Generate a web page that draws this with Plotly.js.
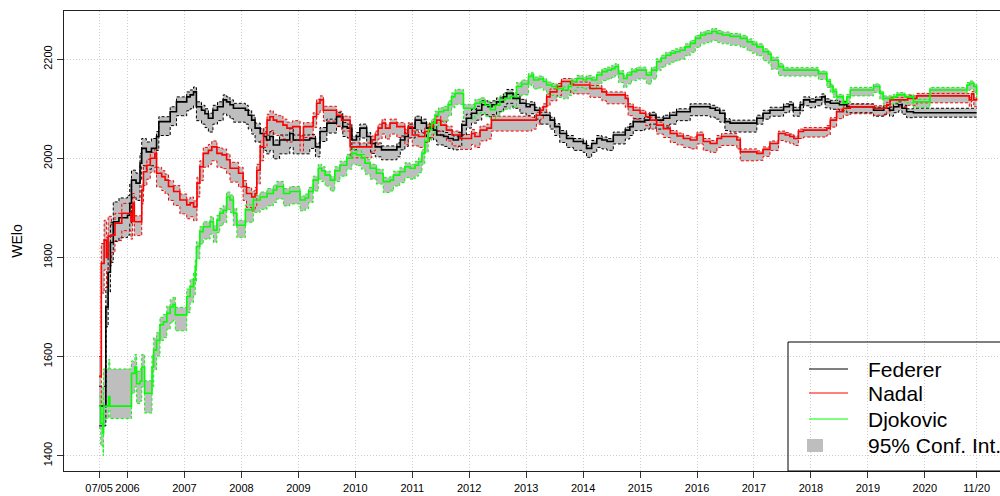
<!DOCTYPE html>
<html>
<head>
<meta charset="utf-8">
<script src="https://cdn.plot.ly/plotly-3.0.1.min.js"></script>
<style>html,body{margin:0;padding:0;background:#fff;}#chart{width:1000px;height:496px;}</style>
</head>
<body>
<div id="chart"></div>
<script>
// ---- Data (decimal years, WElo rating) ----
const fedX = [2005.50,2005.62,2005.66,2005.70,2005.75,2005.85,2006.00,2006.04,2006.07,2006.15,2006.22,2006.25,2006.33,2006.42,2006.51,2006.55,2006.65,2006.75,2006.86,2006.97,2007.04,2007.10,2007.16,2007.21,2007.30,2007.36,2007.42,2007.50,2007.58,2007.68,2007.74,2007.80,2007.86,2008.02,2008.07,2008.12,2008.18,2008.24,2008.33,2008.39,2008.44,2008.50,2008.56,2008.67,2008.79,2008.85,2008.91,2009.20,2009.30,2009.38,2009.50,2009.60,2009.67,2009.78,2009.86,2009.94,2010.02,2010.08,2010.20,2010.27,2010.35,2010.46,2010.66,2010.73,2010.79,2010.87,2010.93,2011.05,2011.16,2011.25,2011.37,2011.43,2011.55,2011.63,2011.72,2011.81,2011.87,2011.95,2012.04,2012.13,2012.22,2012.33,2012.40,2012.48,2012.60,2012.66,2012.77,2012.89,2013.00,2013.07,2013.15,2013.24,2013.42,2013.50,2013.59,2013.71,2013.83,2014.00,2014.06,2014.15,2014.24,2014.33,2014.42,2014.53,2014.65,2014.74,2014.82,2014.88,2015.08,2015.17,2015.28,2015.41,2015.52,2015.64,2015.88,2016.23,2016.32,2016.40,2016.49,2016.58,2017.05,2017.16,2017.28,2017.52,2017.62,2017.69,2017.81,2017.87,2017.98,2018.08,2018.19,2018.25,2018.34,2018.50,2018.63,2019.10,2019.28,2019.38,2019.45,2019.54,2019.60,2019.68,2019.80,2020.91];
const fedY = [1500,1700,1770,1830,1872,1880,1885,1909,1956,1950,1990,2020,2013,2020,2044,2074,2074,2094,2114,2114,2124,2128,2134,2104,2097,2090,2081,2097,2104,2118,2114,2108,2101,2101,2097,2087,2077,2061,2050,2044,2037,2044,2027,2037,2037,2050,2037,2040,2023,2054,2071,2071,2084,2064,2061,2037,2044,2061,2044,2030,2023,2017,2017,2023,2037,2044,2061,2077,2071,2061,2057,2047,2044,2040,2037,2044,2067,2081,2091,2097,2108,2104,2108,2114,2124,2131,2121,2111,2104,2108,2097,2087,2077,2064,2050,2040,2034,2030,2020,2030,2040,2037,2034,2047,2047,2057,2064,2074,2077,2087,2077,2081,2087,2094,2104,2101,2097,2091,2074,2071,2081,2091,2097,2104,2108,2097,2108,2118,2114,2118,2124,2114,2111,2108,2104,2097,2101,2097,2104,2108,2101,2094,2092,2092];

const nadX = [2005.50,2005.54,2005.59,2005.63,2005.66,2005.72,2005.78,2005.90,2006.06,2006.09,2006.12,2006.25,2006.28,2006.34,2006.40,2006.48,2006.51,2006.60,2006.66,2006.72,2006.81,2006.92,2007.04,2007.10,2007.16,2007.22,2007.27,2007.33,2007.42,2007.48,2007.57,2007.66,2007.74,2007.80,2007.95,2008.03,2008.09,2008.18,2008.24,2008.27,2008.33,2008.39,2008.45,2008.50,2008.56,2008.62,2008.73,2008.80,2008.90,2009.03,2009.09,2009.26,2009.32,2009.38,2009.44,2009.67,2009.76,2009.91,2010.29,2010.35,2010.40,2010.47,2010.53,2010.61,2010.73,2010.87,2010.93,2011.00,2011.11,2011.22,2011.30,2011.37,2011.43,2011.50,2011.60,2011.70,2011.84,2012.04,2012.10,2012.19,2012.31,2012.39,2013.10,2013.18,2013.25,2013.30,2013.36,2013.42,2013.54,2013.62,2013.78,2013.83,2014.12,2014.33,2014.41,2014.74,2014.79,2014.88,2015.00,2015.10,2015.18,2015.29,2015.41,2015.53,2015.65,2015.76,2015.88,2016.00,2016.11,2016.23,2016.35,2016.43,2016.70,2016.76,2017.05,2017.16,2017.28,2017.43,2017.55,2017.63,2017.70,2017.78,2017.87,2018.28,2018.34,2018.45,2018.57,2018.69,2019.10,2019.33,2019.39,2019.70,2019.86,2020.74,2020.78,2020.82,2020.86,2020.91];
const nadY = [1560,1788,1835,1800,1843,1845,1869,1889,1872,1909,1872,1936,1973,1986,2000,2010,1970,1963,1956,1943,1933,1916,1906,1910,1902,1950,1983,2010,2016,2023,2010,2007,1997,1980,1970,1943,1929,1922,1929,1976,2023,2050,2077,2084,2077,2074,2067,2061,2064,2037,2064,2084,2111,2118,2097,2087,2077,2023,2037,2047,2061,2071,2061,2071,2064,2050,2064,2047,2044,2054,2064,2071,2077,2067,2057,2047,2040,2050,2044,2057,2061,2077,2077,2087,2097,2104,2124,2134,2145,2155,2150,2148,2141,2134,2128,2121,2104,2097,2091,2084,2077,2067,2060,2050,2045,2040,2037,2047,2034,2030,2040,2044,2037,2013,2010,2018,2030,2050,2047,2044,2040,2054,2057,2061,2077,2094,2101,2104,2101,2108,2118,2121,2126,2126,2118,2130,2118,2121];

const djoX = [2005.50,2005.53,2005.57,2005.58,2005.67,2005.69,2006.07,2006.13,2006.16,2006.22,2006.25,2006.30,2006.43,2006.46,2006.51,2006.57,2006.63,2006.69,2006.75,2006.80,2006.84,2007.04,2007.10,2007.16,2007.19,2007.21,2007.27,2007.33,2007.45,2007.51,2007.57,2007.62,2007.68,2007.74,2007.80,2007.86,2007.92,2008.07,2008.21,2008.33,2008.45,2008.56,2008.62,2008.74,2008.85,2009.03,2009.12,2009.18,2009.26,2009.35,2009.41,2009.47,2009.56,2009.64,2009.73,2009.85,2009.94,2010.02,2010.11,2010.17,2010.26,2010.37,2010.49,2010.61,2010.67,2010.78,2010.87,2010.96,2011.05,2011.11,2011.17,2011.22,2011.28,2011.34,2011.40,2011.46,2011.55,2011.63,2011.69,2011.75,2011.90,2012.10,2012.19,2012.28,2012.37,2012.46,2012.54,2012.63,2012.72,2012.83,2012.92,2013.04,2013.10,2013.13,2013.22,2013.30,2013.36,2013.45,2013.53,2013.65,2013.74,2013.80,2013.89,2014.00,2014.06,2014.15,2014.24,2014.33,2014.42,2014.50,2014.56,2014.62,2014.71,2014.77,2014.85,2014.94,2015.11,2015.20,2015.29,2015.37,2015.45,2015.54,2015.62,2015.70,2015.79,2015.88,2015.97,2016.06,2016.15,2016.26,2016.35,2016.44,2016.58,2016.76,2016.88,2016.97,2017.05,2017.16,2017.25,2017.30,2017.43,2017.52,2018.04,2018.13,2018.28,2018.34,2018.39,2018.45,2018.57,2018.63,2018.69,2019.10,2019.21,2019.27,2019.45,2019.51,2019.65,2019.80,2020.09,2020.74,2020.79,2020.86,2020.91];
const djoY = [1500,1465,1445,1500,1519,1500,1566,1579,1545,1550,1579,1526,1579,1613,1633,1664,1670,1687,1700,1705,1684,1721,1741,1755,1781,1822,1852,1862,1872,1855,1875,1889,1895,1922,1916,1889,1865,1896,1916,1922,1929,1936,1943,1929,1933,1916,1920,1933,1956,1980,1975,1966,1956,1975,1986,2000,2010,2007,2000,1990,1980,1970,1953,1956,1966,1973,1983,1980,1986,1993,2010,2034,2058,2071,2087,2094,2097,2108,2124,2131,2101,2111,2114,2107,2098,2107,2118,2121,2125,2145,2150,2165,2168,2158,2160,2155,2148,2145,2141,2138,2145,2155,2161,2158,2161,2158,2168,2175,2178,2181,2185,2171,2161,2168,2175,2178,2168,2178,2195,2202,2208,2212,2215,2218,2225,2232,2242,2249,2252,2256,2252,2249,2246,2242,2235,2230,2225,2215,2210,2198,2185,2178,2178,2171,2155,2145,2135,2124,2111,2124,2138,2145,2131,2121,2124,2128,2124,2114,2138,2148,2151,2145,2128];

// 95% confidence band widths (rating points below / above the estimate), by period start
const fedBandStart = [2005.5, 2006.05, 2006.5, 2009.0, 2013.0, 2017.0, 2019.8];
const fedBandLo    = [40, 35, 28, 20, 18, 12, 9];
const fedBandHi    = [40, 20, 10, 8, 6, 6, 9];
const nadBandStart = [2005.5, 2005.7, 2006.1, 2009.0, 2013.0, 2017.0];
const nadBandLo    = [60, 35, 28, 22, 18, 14];
const nadBandHi    = [40, 20, 12, 8, 6, 5];
const djoBandStart = [2005.5, 2005.58, 2006.05, 2006.5, 2007.2, 2009.0, 2013.0, 2017.5];
const djoBandLo    = [45, 25, 40, 32, 25, 22, 18, 12];
const djoBandHi    = [20, 75, 25, 15, 10, 8, 6, 5];

const xTickVals = [2005.5,2006,2007,2008,2009,2010,2011,2012,2013,2014,2015,2016,2017,2018,2019,2020,2020.91];
const xTickText = ['07/05','2006','2007','2008','2009','2010','2011','2012','2013','2014','2015','2016','2017','2018','2019','2020','11/20'];
const yTickVals = [1400,1600,1800,2000,2200];

const players = ['Federer','Nadal','Djokovic'];
const colors  = ['#000000','#ff0000','#00ff00'];

function bounds(xs, ys, starts, lo, hi){
  const low=[], up=[];
  for(let i=0;i<xs.length;i++){
    let k=0;
    for(let j=0;j<starts.length;j++){ if(xs[i]>=starts[j]-1e-9) k=j; }
    low.push(ys[i]-lo[k]); up.push(ys[i]+hi[k]);
  }
  return {low, up};
}

const series = [
  {x:fedX, y:fedY, b:bounds(fedX,fedY,fedBandStart,fedBandLo,fedBandHi)},
  {x:nadX, y:nadY, b:bounds(nadX,nadY,nadBandStart,nadBandLo,nadBandHi)},
  {x:djoX, y:djoY, b:bounds(djoX,djoY,djoBandStart,djoBandLo,djoBandHi)}
];

const traces = [];
// grey CI fills
series.forEach((s,i)=>{
  traces.push({x:s.x, y:s.b.low, type:'scatter', mode:'lines', line:{width:0, shape:'hv'}, hoverinfo:'skip', showlegend:false});
  traces.push({x:s.x, y:s.b.up, type:'scatter', mode:'lines', line:{width:0, shape:'hv'}, fill:'tonexty', fillcolor:'#bebebe', hoverinfo:'skip', showlegend:false});
});
// dotted CI bounds
series.forEach((s,i)=>{
  traces.push({x:s.x, y:s.b.low, type:'scatter', mode:'lines', line:{width:1, shape:'hv', color:colors[i], dash:'3px,2px'}, hoverinfo:'skip', showlegend:false});
  traces.push({x:s.x, y:s.b.up, type:'scatter', mode:'lines', line:{width:1, shape:'hv', color:colors[i], dash:'3px,2px'}, hoverinfo:'skip', showlegend:false});
});
// estimates
series.forEach((s,i)=>{
  traces.push({x:s.x, y:s.y, name:players[i], type:'scatter', mode:'lines', line:{width:1.6, shape:'hv', color:colors[i]}, showlegend:false});
});

// legend (drawn as in the original, box running off the right edge)
const L = 64, T = 11, PW = 936, PH = 460;
const px = v => (v - L)/PW;
const py = v => (T + PH - v)/PH;
const shapes = [
  {type:'rect', xref:'paper', yref:'paper', x0:px(788), x1:px(1010), y0:py(471), y1:py(342), line:{color:'#000', width:1}, fillcolor:'rgba(0,0,0,0)'},
  {type:'rect', xref:'paper', yref:'paper', x0:px(807), x1:px(823), y0:py(452), y1:py(439), line:{width:0}, fillcolor:'#bebebe'}
];
const legY = [369, 393, 419];
players.forEach((p,i)=>{
  shapes.push({type:'line', xref:'paper', yref:'paper', x0:px(809), x1:px(848), y0:py(legY[i]), y1:py(legY[i]), line:{color:colors[i], width:1}});
});
const annotations = players.map((p,i)=>({
  xref:'paper', yref:'paper', x:px(866), y:py(legY[i]), xanchor:'left', yanchor:'middle', text:p, showarrow:false,
  font:{size:21, color:'#000'}
}));
annotations.push({xref:'paper', yref:'paper', x:px(866), y:py(445.5), xanchor:'left', yanchor:'middle', text:'95% Conf. Int.', showarrow:false, font:{size:21, color:'#000'}});

const layout = {
  width:1000, height:496,
  margin:{l:64, r:0, t:11, b:25, pad:0},
  paper_bgcolor:'#ffffff', plot_bgcolor:'#ffffff',
  showlegend:false,
  font:{family:'Liberation Sans, Arial, Helvetica, sans-serif', color:'#000', size:11},
  xaxis:{
    range:[2004.885, 2021.32], tickmode:'array', tickvals:xTickVals, ticktext:xTickText,
    ticks:'outside', ticklen:6, tickwidth:1, tickcolor:'#333',
    showline:true, linecolor:'#222', linewidth:1.3, mirror:true,
    showgrid:true, gridcolor:'#cccccc', griddash:'1px,2px', gridwidth:1,
    zeroline:false, tickfont:{size:11, color:'#000'}, fixedrange:true
  },
  yaxis:{
    range:[1369, 2297.3], tickmode:'array', tickvals:yTickVals, ticktext:yTickVals.map(String),
    tickangle:-90, ticks:'outside', ticklen:6, tickwidth:1, tickcolor:'#333',
    showline:true, linecolor:'#222', linewidth:1.3, mirror:false,
    showgrid:true, gridcolor:'#cccccc', griddash:'1px,2px', gridwidth:1,
    zeroline:false, tickfont:{size:11, color:'#000'},
    title:{text:'WElo', font:{size:14, color:'#000'}, standoff:16}, fixedrange:true
  },
  shapes:shapes,
  annotations:annotations
};

Plotly.newPlot('chart', traces, layout, {staticPlot:true, displayModeBar:false});
</script>
</body>
</html>
